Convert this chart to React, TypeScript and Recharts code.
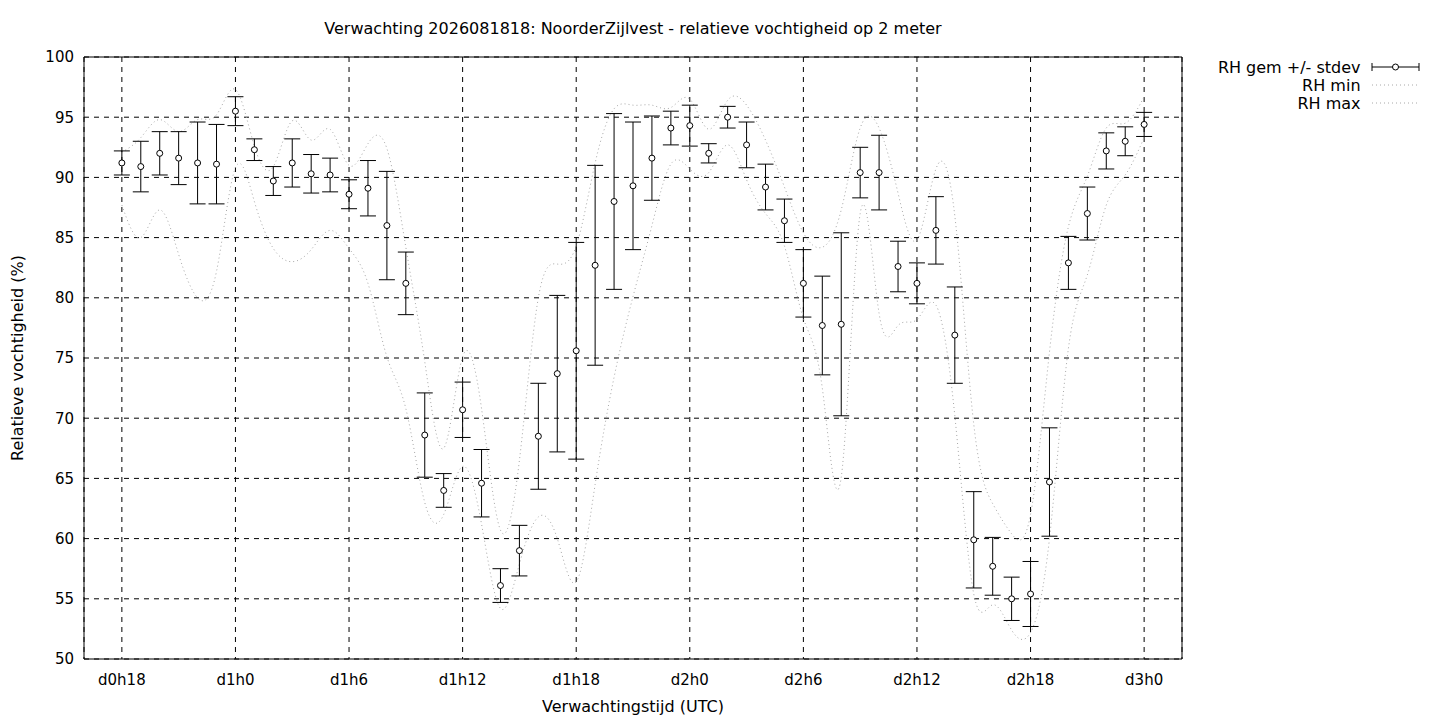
import { ComposedChart, Scatter, Line, ErrorBar, XAxis, YAxis, CartesianGrid, ReferenceArea, Label } from 'recharts';

// uren vanaf d0h18, elk uur een waarde
const rhGem = [
    91.2, 90.9, 92.0, 91.6, 91.2, 91.1, 95.5, 92.3, 89.7, 91.2, 90.3, 90.2, 88.6, 89.1, 86.0, 81.2,
    68.6, 64.0, 70.7, 64.6, 56.1, 59.0, 68.5, 73.7, 75.6, 82.7, 88.0, 89.3, 91.6, 94.1, 94.3, 92.0,
    95.0, 92.7, 89.2, 86.4, 81.2, 77.7, 77.8, 90.4, 90.4, 82.6, 81.2, 85.6, 76.9, 59.9, 57.7, 55.0,
    55.4, 64.7, 82.9, 87.0, 92.2, 93.0, 94.4,
];
const rhStdev = [
    1.0, 2.1, 1.8, 2.2, 3.4, 3.3, 1.2, 0.9, 1.2, 2.0, 1.6, 1.4, 1.2, 2.3, 4.5, 2.6,
    3.5, 1.4, 2.3, 2.8, 1.4, 2.1, 4.4, 6.5, 9.0, 8.3, 7.3, 5.3, 3.5, 1.4, 1.7, 0.8,
    0.9, 1.9, 1.9, 1.8, 2.8, 4.1, 7.6, 2.1, 3.1, 2.1, 1.7, 2.8, 4.0, 4.0, 2.4, 1.8,
    2.7, 4.5, 2.2, 2.2, 1.5, 1.2, 1.0,
];
const rhMin = [
    87.7, 85.0, 87.3, 83.6, 80.0, 82.2, 90.8, 88.0, 84.1, 83.0, 84.0, 85.6, 84.1, 81.2, 75.1, 70.8,
    63.0, 62.0, 66.0, 61.2, 54.2, 57.9, 61.8, 60.0, 56.4, 64.5, 73.4, 80.1, 86.0, 91.1, 90.7, 90.4,
    92.7, 89.8, 87.0, 84.3, 78.3, 72.5, 65.1, 87.0, 78.7, 77.7, 78.2, 79.4, 70.2, 55.4, 54.5, 52.4,
    52.2, 60.0, 75.8, 81.9, 87.7, 90.2, 93.3,
];
const rhMax = [
    92.1, 93.3, 94.8, 93.8, 94.8, 95.2, 97.3, 92.6, 90.9, 94.7, 93.1, 94.0, 91.0, 92.8, 92.4, 84.2,
    74.7, 67.5, 75.1, 70.8, 60.7, 66.5, 80.0, 82.8, 84.3, 91.2, 95.7, 96.0, 96.0, 95.8, 96.5, 94.0,
    96.4, 96.0, 93.1, 89.2, 85.4, 84.2, 87.3, 94.1, 94.1, 88.7, 84.8, 90.7, 86.8, 69.5, 62.9, 60.4,
    62.0, 75.5, 85.9, 90.1, 94.1, 94.5, 96.7,
];

const tickUren = [0, 6, 12, 18, 24, 30, 36, 42, 48, 54];
const tickLabels = ['d0h18', 'd1h0', 'd1h6', 'd1h12', 'd1h18', 'd2h0', 'd2h6', 'd2h12', 'd2h18', 'd3h0'];
const yTicks = [50, 55, 60, 65, 70, 75, 80, 85, 90, 95, 100];

const data = rhGem.map((gem, i) => ({
    t: i,
    gem,
    sd: rhStdev[i],
    min: rhMin[i],
    max: rhMax[i],
}));

const FONT = '"DejaVu Sans", sans-serif';
const tickStyle = { fill: '#000', fontSize: 15, fontFamily: FONT };
const DOTTED = '#a8a8a8';

function Rondje(props: any) {
    const { cx, cy } = props;
    if (cx == null || cy == null) return null;
    return <circle cx={cx} cy={cy} r={3} fill="#fff" stroke="#000" strokeWidth={1} />;
}

function Legenda() {
    const rows = [
        { label: 'RH gem +/- stdev', type: 'err' },
        { label: 'RH min', type: 'dot' },
        { label: 'RH max', type: 'dot' },
    ];
    return (
        <div style={{ position: 'absolute', left: 1190, top: 58, width: 240, fontFamily: FONT, fontSize: 16 }}>
            {rows.map((r) => (
                <div key={r.label} style={{ display: 'flex', alignItems: 'center', height: 18 }}>
                    <span style={{ width: 172, textAlign: 'right', whiteSpace: 'nowrap' }}>{r.label}</span>
                    <svg width={60} height={18} style={{ marginLeft: 10 }}>
                        {r.type === 'err' ? (
                            <g stroke="#000" strokeWidth={1}>
                                <line x1={1} y1={9} x2={48} y2={9} />
                                <line x1={1} y1={5} x2={1} y2={13} />
                                <line x1={48} y1={5} x2={48} y2={13} />
                                <circle cx={24.5} cy={9} r={3} fill="#fff" />
                            </g>
                        ) : (
                            <line x1={1} y1={9} x2={48} y2={9} stroke={DOTTED} strokeWidth={1} strokeDasharray="1 3" />
                        )}
                    </svg>
                </div>
            ))}
        </div>
    );
}

export default function App() {
    return (
        <div style={{ position: 'absolute', left: 0, top: 0, width: 1440, height: 720, background: '#fff', fontFamily: FONT }}>
            <div style={{ position: 'absolute', left: 84, top: 20, width: 1098, textAlign: 'center', fontSize: 16, lineHeight: '18px' }}>
                Verwachting 2026081818: NoorderZijlvest - relatieve vochtigheid op 2 meter
            </div>
            <ComposedChart width={1440} height={720} data={data} margin={{ top: 57, right: 258, bottom: 0, left: 0 }}>
                <CartesianGrid stroke="#000" strokeDasharray="5 5" strokeWidth={1} />
                <XAxis
                    type="number"
                    dataKey="t"
                    domain={[-2, 56]}
                    ticks={tickUren}
                    tickFormatter={(v: number) => tickLabels[tickUren.indexOf(v)] ?? ''}
                    height={61}
                    axisLine={false}
                    tickLine={false}
                    tickSize={6}
                    tickMargin={9}
                    tick={tickStyle}
                    allowDataOverflow
                >
                    <Label
                        content={() => (
                            <text x={633} y={712} textAnchor="middle" fontSize={16} fontFamily={FONT} fill="#000">
                                Verwachtingstijd (UTC)
                            </text>
                        )}
                    />
                </XAxis>
                <YAxis
                    type="number"
                    domain={[50, 100]}
                    ticks={yTicks}
                    width={84}
                    axisLine={false}
                    tickLine={false}
                    tickSize={6}
                    tickMargin={4}
                    tick={tickStyle}
                    allowDataOverflow
                >
                    <Label
                        content={() => (
                            <text
                                x={23}
                                y={358}
                                transform="rotate(-90 23 358)"
                                textAnchor="middle"
                                fontSize={16}
                                fontFamily={FONT}
                                fill="#000"
                            >
                                Relatieve vochtigheid (%)
                            </text>
                        )}
                    />
                </YAxis>
                <Line
                    dataKey="min"
                    type="natural"
                    stroke={DOTTED}
                    strokeWidth={1}
                    strokeDasharray="1 3"
                    dot={false}
                    activeDot={false}
                    isAnimationActive={false}
                />
                <Line
                    dataKey="max"
                    type="natural"
                    stroke={DOTTED}
                    strokeWidth={1}
                    strokeDasharray="1 3"
                    dot={false}
                    activeDot={false}
                    isAnimationActive={false}
                />
                <Scatter dataKey="gem" shape={Rondje} isAnimationActive={false}>
                    <ErrorBar dataKey="sd" direction="y" width={8} stroke="#000" strokeWidth={1} />
                </Scatter>
                <ReferenceArea x1={-2} x2={56} y1={50} y2={100} fill="none" stroke="#000" strokeWidth={1} fillOpacity={0} />
            </ComposedChart>
            <Legenda />
        </div>
    );
}
